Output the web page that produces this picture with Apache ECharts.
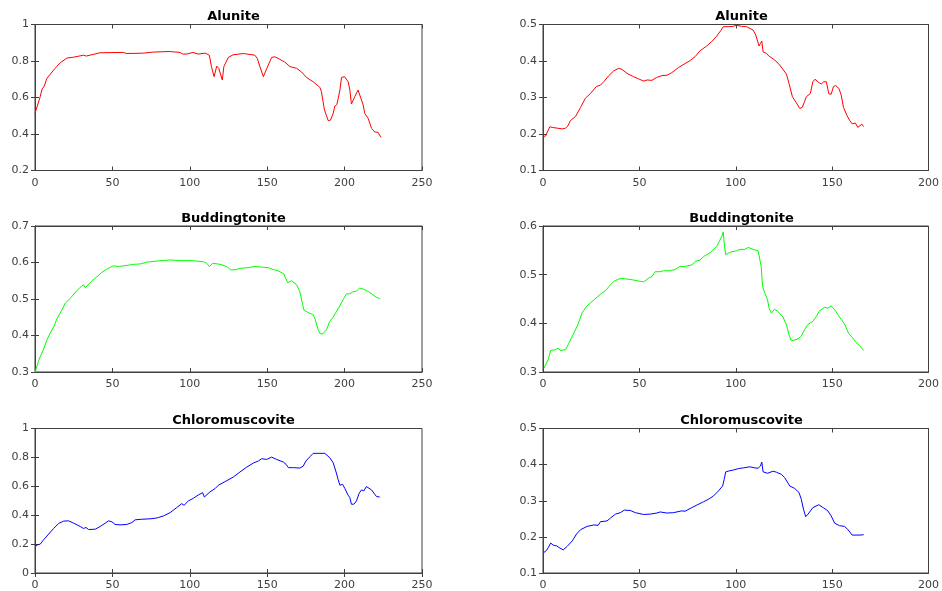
<!DOCTYPE html>
<html>
<head>
<meta charset="utf-8">
<script src="https://cdn.jsdelivr.net/npm/echarts@6/dist/echarts.min.js"></script>
<style>
  html, body { margin: 0; padding: 0; background: #ffffff; }
  #chart { width: 942px; height: 591px; }
</style>
</head>
<body>
<div id="chart"></div>
<script>
// Spectral signatures: [band index, reflectance] pairs per panel
const aluniteLeft = [[0,0.513],[3.4,0.605],[4.5,0.645],[6,0.663],[7.7,0.705],[9.9,0.728],[13,0.76],[16.3,0.79],[20.6,0.816],[25,0.821],[31.4,0.832],[33,0.827],[42,0.845],[57,0.847],[59,0.841],[70,0.843],[76.5,0.849],[87,0.852],[93.7,0.847],[95.4,0.838],[96.5,0.847],[98,0.838],[102,0.847],[105.5,0.838],[110,0.843],[112.6,0.832],[114,0.769],[115.7,0.714],[117.4,0.772],[118.7,0.76],[121,0.696],[122,0.769],[124.9,0.82],[128,0.834],[134.6,0.841],[142,0.832],[143.6,0.814],[145.3,0.769],[147.5,0.714],[148.6,0.714],[150.7,0.778],[152.9,0.82],[155,0.823],[158.2,0.809],[161.4,0.794],[164.7,0.769],[169,0.76],[172,0.741],[175.4,0.71],[179.7,0.686],[184,0.656],[185,0.632],[187,0.532],[189.4,0.473],[190.9,0.476],[192.6,0.513],[193.7,0.553],[195,0.561],[197,0.641],[198,0.71],[200,0.714],[202.3,0.686],[203.4,0.641],[204.4,0.564],[205.5,0.566],[206.6,0.605],[208.7,0.641],[209.8,0.637],[212,0.559],[213,0.513],[215.2,0.486],[217.4,0.431],[219.5,0.411],[221.6,0.409],[223.4,0.382]];

const aluniteRight = [[0.3,0.193],[1.4,0.195],[2.6,0.209],[3.6,0.220],[4.8,0.218],[7.4,0.216],[10,0.214],[11.7,0.216],[12.9,0.222],[14.3,0.237],[16.9,0.248],[19.5,0.273],[22,0.298],[24.6,0.311],[27.7,0.330],[29.8,0.334],[31.5,0.343],[34,0.359],[36.7,0.373],[39.3,0.380],[41,0.377],[43.6,0.366],[47,0.357],[49.6,0.351],[52.2,0.345],[54,0.348],[56.5,0.347],[59,0.355],[61.7,0.360],[64.3,0.361],[66.8,0.368],[70.3,0.382],[73.7,0.393],[76.3,0.401],[78.9,0.412],[81.5,0.428],[84.9,0.441],[87.5,0.453],[90.1,0.468],[92.2,0.483],[93.5,0.494],[96.1,0.494],[98.7,0.495],[100.4,0.498],[103,0.495],[105.6,0.494],[109,0.485],[110.4,0.471],[112.1,0.441],[112.8,0.448],[113.5,0.455],[114.2,0.425],[115.9,0.421],[117.3,0.413],[118.2,0.416],[120.2,0.403],[122.8,0.389],[126.3,0.364],[127.6,0.339],[129.4,0.302],[131.4,0.286],[133.2,0.270],[134.5,0.273],[135.7,0.289],[136.6,0.302],[137.5,0.299],[138.7,0.311],[140,0.343],[141.1,0.350],[143.1,0.341],[144.4,0.337],[145.6,0.343],[147,0.343],[148.3,0.310],[149.5,0.309],[150.7,0.330],[151.8,0.333],[153.5,0.325],[154.7,0.307],[155.9,0.273],[157.6,0.252],[159,0.238],[160.4,0.228],[162.1,0.230],[163.3,0.218],[164.2,0.222],[165.4,0.227],[166.4,0.220]];

const buddLeft = [[0,0.298],[0.9,0.311],[2.4,0.332],[3.9,0.347],[5.6,0.363],[7.7,0.388],[9.9,0.407],[12,0.423],[14.2,0.446],[17.4,0.470],[19.6,0.489],[22.8,0.502],[26,0.518],[29.2,0.532],[31.4,0.539],[32.5,0.531],[33.5,0.536],[36.8,0.550],[40,0.561],[43.2,0.573],[46.4,0.582],[50.7,0.591],[54,0.589],[59.3,0.592],[63.6,0.595],[68,0.596],[72.2,0.601],[78.7,0.604],[87.3,0.607],[93.7,0.605],[102.3,0.605],[108.8,0.602],[110.9,0.598],[112.6,0.589],[114.8,0.598],[119.5,0.595],[123.8,0.589],[126.4,0.580],[129.2,0.580],[132.4,0.584],[137.8,0.586],[142,0.589],[147.5,0.587],[150.7,0.586],[152.9,0.582],[157.2,0.577],[160.8,0.569],[161.9,0.557],[163.2,0.545],[165.8,0.550],[166.8,0.548],[169,0.539],[171,0.521],[173.7,0.470],[176.4,0.463],[179.7,0.457],[180.7,0.448],[182.9,0.416],[184.4,0.404],[186.1,0.405],[188.3,0.416],[190.4,0.439],[192.6,0.450],[194.3,0.463],[196.9,0.481],[199,0.498],[201.2,0.514],[203.4,0.514],[205,0.519],[207.7,0.522],[209.8,0.530],[212,0.527],[215.2,0.521],[218.4,0.511],[220.6,0.505],[222.7,0.501]];

const buddRight = [[0.5,0.308],[1.4,0.306],[2.6,0.325],[4,0.344],[6.5,0.346],[7.9,0.349],[9.1,0.344],[11.7,0.346],[13.4,0.359],[16,0.380],[18.1,0.397],[20.3,0.422],[22.9,0.436],[25.5,0.445],[28.1,0.454],[29.8,0.460],[32.4,0.467],[35,0.479],[36.7,0.486],[39.3,0.491],[41,0.492],[43.6,0.491],[47,0.489],[49.6,0.487],[52.2,0.485],[54.8,0.493],[56.5,0.496],[58.2,0.506],[60.8,0.506],[62.5,0.508],[66,0.508],[68.6,0.511],[71.1,0.517],[73.7,0.517],[77.2,0.520],[78.9,0.527],[81.5,0.530],[83.2,0.537],[86.6,0.545],[90.1,0.558],[92.7,0.578],[93.5,0.588],[94,0.565],[94.8,0.541],[96.1,0.544],[97.8,0.547],[100.4,0.549],[102.2,0.552],[104.7,0.552],[106.5,0.556],[109,0.552],[111.6,0.549],[112.5,0.548],[113.2,0.517],[113.9,0.476],[115.1,0.462],[116.5,0.448],[117.3,0.431],[118.5,0.421],[120.2,0.429],[122,0.424],[124.5,0.413],[126.3,0.397],[127.6,0.377],[128.9,0.364],[130.6,0.366],[132.3,0.368],[134,0.374],[135.7,0.387],[137.5,0.398],[140,0.404],[141.8,0.414],[143.5,0.426],[146.1,0.433],[147.8,0.431],[149.5,0.436],[151.3,0.428],[153.8,0.413],[156.4,0.399],[158.6,0.379],[160.7,0.370],[162.4,0.361],[164.5,0.353],[166.4,0.344]];

const chloroLeft = [[0.2,0.184],[1.7,0.195],[3.4,0.200],[5.6,0.230],[8.8,0.269],[12,0.308],[15.3,0.343],[18.5,0.359],[21.7,0.361],[24.9,0.345],[29.2,0.322],[31.4,0.308],[32.9,0.315],[34.6,0.301],[38.9,0.303],[42.1,0.322],[45.4,0.345],[47.5,0.361],[49.7,0.354],[51.8,0.336],[55,0.333],[59.3,0.336],[62.6,0.349],[64.7,0.368],[69,0.372],[74.4,0.375],[77.6,0.379],[79.8,0.384],[83,0.395],[87.3,0.418],[91.6,0.453],[94.8,0.480],[96.3,0.469],[99.1,0.499],[102.3,0.517],[105.5,0.540],[108.3,0.556],[109.4,0.526],[110.5,0.515],[113,0.561],[116.3,0.584],[118.4,0.607],[122.7,0.632],[128.1,0.664],[132.4,0.699],[136.8,0.733],[141.1,0.761],[144.3,0.775],[146.4,0.791],[149.6,0.786],[152.9,0.802],[156.1,0.786],[160.4,0.768],[162.2,0.752],[163.7,0.729],[166.9,0.729],[171.1,0.726],[173.3,0.740],[175,0.775],[177.6,0.805],[179.7,0.828],[182.9,0.828],[187.2,0.828],[190.4,0.798],[192.6,0.763],[194.3,0.706],[195.8,0.648],[197,0.607],[198.7,0.614],[200.2,0.584],[202.3,0.538],[203.4,0.522],[204.4,0.476],[206,0.476],[207.7,0.499],[209.4,0.552],[210.9,0.575],[212.4,0.568],[214.1,0.598],[215.2,0.602],[217.4,0.575],[219.5,0.545],[220.6,0.529],[222.7,0.526]];

const chloroRight = [[0.5,0.157],[1.7,0.162],[2.8,0.171],[4,0.183],[5.3,0.177],[7.1,0.175],[8.8,0.169],[10.5,0.164],[12.6,0.174],[15.2,0.189],[17.4,0.208],[19.5,0.220],[22.9,0.229],[26.4,0.233],[28.6,0.232],[29.8,0.242],[33.2,0.244],[35,0.252],[37.6,0.263],[40.1,0.267],[42.2,0.274],[45.3,0.273],[47.9,0.267],[52.2,0.262],[55.6,0.263],[59.1,0.266],[60.8,0.269],[64.3,0.266],[67.7,0.267],[72,0.272],[73.7,0.271],[77.2,0.281],[79.8,0.288],[83.2,0.297],[85.8,0.304],[88.4,0.313],[91,0.327],[93.2,0.341],[94,0.359],[94.8,0.380],[96.1,0.382],[98.7,0.385],[101.3,0.389],[103.9,0.391],[107.3,0.394],[109.9,0.391],[111.6,0.390],[112.8,0.396],[113.5,0.407],[114.2,0.380],[116.5,0.376],[119.4,0.382],[121.1,0.379],[123.7,0.373],[125.4,0.364],[128,0.341],[130.6,0.334],[132.8,0.323],[134,0.304],[135.2,0.275],[136.3,0.256],[137.5,0.263],[140,0.281],[143.1,0.289],[145.6,0.280],[147.8,0.272],[149.5,0.258],[151.3,0.238],[153.8,0.231],[156.4,0.229],[158.1,0.221],[160.4,0.205],[162.4,0.205],[164.5,0.205],[166.4,0.206]];

// Panel titles, colours and axis ranges
const titles = ['Alunite', 'Alunite', 'Buddingtonite', 'Buddingtonite', 'Chloromuscovite', 'Chloromuscovite'];
const colors = ['#ff0000', '#ff0000', '#00ff00', '#00ff00', '#0000ff', '#0000ff'];
const xMaxes = [250, 200, 250, 200, 250, 200];
const xSteps = [50, 50, 50, 50, 50, 50];
const yMins = [0.2, 0.1, 0.3, 0.3, 0, 0.1];
const yMaxes = [1, 0.5, 0.7, 0.6, 1, 0.5];
const ySteps = [0.2, 0.1, 0.1, 0.1, 0.2, 0.1];
const seriesData = [aluniteLeft, aluniteRight, buddLeft, buddRight, chloroLeft, chloroRight];

// Layout of the 3x2 panel grid
const colLeft = [35, 543];
const rowTop = [24.5, 226, 428.5];
const panelW = 387;
const panelH = 146;

const FONT = 'DejaVu Sans';
const AXIS_COLOR = '#404040';

const grids = [], xAxes = [], yAxes = [], series = [], titleList = [];

for (let i = 0; i < 6; i++) {
  const col = i % 2, row = Math.floor(i / 2);
  const left = colLeft[col], top = rowTop[row];
  grids.push({
    left: left, top: top, width: panelW, height: panelH,
    show: true, borderColor: AXIS_COLOR, borderWidth: 1, backgroundColor: '#ffffff'
  });
  const tick = { show: true, inside: true, length: 4, lineStyle: { color: AXIS_COLOR, width: 1 } };
  const line = { show: true, lineStyle: { color: AXIS_COLOR, width: 1 } };
  // bottom and top x axes (top one only carries tick marks)
  xAxes.push({
    type: 'value', gridIndex: i, position: 'bottom', min: 0, max: xMaxes[i], interval: xSteps[i],
    axisLine: line, axisTick: tick, splitLine: { show: false },
    axisLabel: { color: AXIS_COLOR, fontFamily: FONT, fontSize: 11, margin: 7 }
  });
  xAxes.push({
    type: 'value', gridIndex: i, position: 'top', min: 0, max: xMaxes[i], interval: xSteps[i],
    axisLine: line, axisTick: tick, splitLine: { show: false }, axisLabel: { show: false }
  });
  // left and right y axes (right one only carries tick marks)
  yAxes.push({
    type: 'value', gridIndex: i, position: 'left', min: yMins[i], max: yMaxes[i], interval: ySteps[i],
    axisLine: line, axisTick: tick, splitLine: { show: false },
    axisLabel: { color: AXIS_COLOR, fontFamily: FONT, fontSize: 11, margin: 6 }
  });
  yAxes.push({
    type: 'value', gridIndex: i, position: 'right', min: yMins[i], max: yMaxes[i], interval: ySteps[i],
    axisLine: line, axisTick: tick, splitLine: { show: false }, axisLabel: { show: false }
  });
  series.push({
    type: 'line', xAxisIndex: 2 * i, yAxisIndex: 2 * i, data: seriesData[i],
    showSymbol: false, symbol: 'none', smooth: false, animation: false,
    lineStyle: { color: colors[i], width: 1 }
  });
  titleList.push({
    text: titles[i], left: left + panelW / 2, top: top - 19, textAlign: 'center',
    textStyle: { fontFamily: FONT, fontSize: 13, fontWeight: 'bold', color: '#000000' }
  });
}

const chart = echarts.init(document.getElementById('chart'), null, { renderer: 'canvas' });
chart.setOption({
  animation: false,
  backgroundColor: '#ffffff',
  title: titleList,
  grid: grids,
  xAxis: xAxes,
  yAxis: yAxes,
  series: series
});
</script>
</body>
</html>
